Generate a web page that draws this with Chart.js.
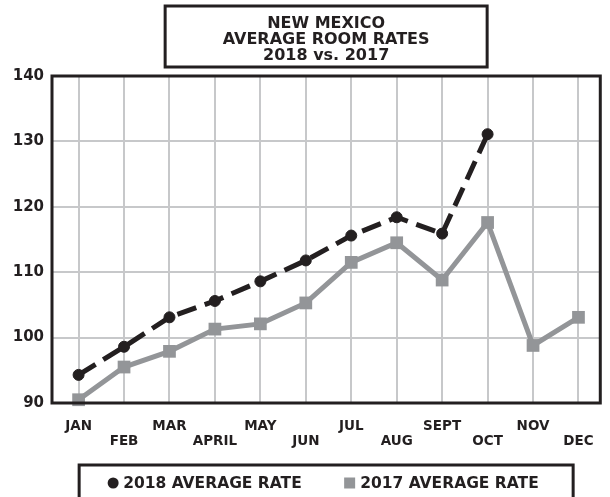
<!DOCTYPE html>
<html>
<head>
<meta charset="utf-8">
<script src="https://cdn.jsdelivr.net/npm/chart.js@4"></script>
<style>
  html, body { margin: 0; padding: 0; background: #fff; }
</style>
</head>
<body>
<canvas id="chart" width="610" height="497"></canvas>
<script>
const month_labels = ["JAN", "FEB", "MAR", "APRIL", "MAY", "JUN", "JUL", "AUG", "SEPT", "OCT", "NOV", "DEC"];
const rate_2018 = [94.3, 98.6, 103.1, 105.6, 108.6, 111.8, 115.6, 118.4, 115.9, 131.1];
const rate_2017 = [90.5, 95.5, 97.9, 101.3, 102.1, 105.3, 111.5, 114.5, 108.8, 117.6, 98.8, 103.1];
const y_ticks = [90, 100, 110, 120, 130, 140];
const title_lines = ["NEW MEXICO", "AVERAGE ROOM RATES", "2018 vs. 2017"];
const series_names = ["2018 AVERAGE RATE", "2017 AVERAGE RATE"];

const ink = "#231f20";
const gray = "#939598";
const grid_gray = "#c7c8ca";
const font_family = "'DejaVu Sans', sans-serif";

function toPoints(values) {
  return values.map(function (v, i) {
    return { x: i, y: v };
  });
}

// title box, plot frame and the boxed legend
const frames = {
  id: "frames",
  afterDraw(chart) {
    const ctx = chart.ctx;
    const a = chart.chartArea;
    const cx = (a.left + a.right) / 2;
    ctx.save();
    ctx.strokeStyle = ink;
    ctx.lineWidth = 3;
    ctx.strokeRect(a.left, a.top, a.right - a.left, a.bottom - a.top);

    // title
    ctx.strokeRect(cx - 161, 6, 322, 61);
    ctx.fillStyle = ink;
    ctx.font = "bold 16px " + font_family;
    ctx.textAlign = "center";
    ctx.textBaseline = "middle";
    title_lines.forEach(function (line, i) {
      ctx.fillText(line, cx, 23.5 + i * 16);
    });

    // legend
    const left = cx - 247;
    const right = cx + 247;
    ctx.beginPath();
    ctx.moveTo(left, 500);
    ctx.lineTo(left, 465);
    ctx.lineTo(right, 465);
    ctx.lineTo(right, 500);
    ctx.stroke();

    ctx.font = "bold 15.5px " + font_family;
    ctx.textAlign = "left";
    const ly = 483;
    const starts = [left + 28, left + 265];
    chart.data.datasets.forEach(function (ds, i) {
      const x0 = starts[i];
      ctx.fillStyle = ds.pointBackgroundColor;
      if (ds.pointStyle === "circle") {
        ctx.beginPath();
        ctx.arc(x0 + 6, ly, 5.5, 0, Math.PI * 2);
        ctx.fill();
      } else {
        ctx.fillRect(x0, ly - 5.5, 11, 11);
      }
      ctx.fillStyle = ink;
      ctx.fillText(ds.label, x0 + 16, ly + 1);
    });
    ctx.restore();
  },
};

const config = {
  type: "line",
  data: {
    datasets: [
      {
        label: series_names[0],
        data: toPoints(rate_2018),
        borderColor: ink,
        borderWidth: 5,
        borderDash: [20, 9],
        pointStyle: "circle",
        pointRadius: 5.5,
        pointBackgroundColor: ink,
        pointBorderColor: ink,
        pointBorderWidth: 1,
        clip: false,
        order: 0,
      },
      {
        label: series_names[1],
        data: toPoints(rate_2017),
        borderColor: gray,
        borderWidth: 5,
        pointStyle: "rect",
        pointRadius: 9,
        pointBackgroundColor: gray,
        pointBorderColor: gray,
        pointBorderWidth: 0,
        clip: false,
        order: 1,
      },
    ],
  },
  options: {
    responsive: false,
    animation: false,
    devicePixelRatio: 1,
    layout: { padding: { top: 76, right: 2, left: 0, bottom: 0 } },
    plugins: {
      legend: { display: false },
      tooltip: { enabled: false },
    },
    scales: {
      x: {
        type: "linear",
        min: -0.585,
        max: 11.48,
        afterBuildTicks: function (scale) {
          scale.ticks = month_labels.map(function (_, i) {
            return { value: i };
          });
        },
        afterFit: function (scale) {
          scale.height = 94;
        },
        grid: { color: grid_gray, lineWidth: 2, drawTicks: false },
        border: { display: false },
        ticks: {
          autoSkip: false,
          maxRotation: 0,
          padding: 16,
          color: ink,
          font: { family: font_family, size: 13.5, weight: "bold", lineHeight: 1.12 },
          callback: function (value) {
            const name = month_labels[value];
            return value % 2 ? ["", name] : name;
          },
        },
      },
      y: {
        min: y_ticks[0],
        max: y_ticks[y_ticks.length - 1],
        afterBuildTicks: function (scale) {
          scale.ticks = y_ticks.map(function (v) {
            return { value: v };
          });
        },
        afterFit: function (scale) {
          scale.width = 52;
        },
        grid: { color: grid_gray, lineWidth: 2, drawTicks: false },
        border: { display: false },
        ticks: {
          padding: 8,
          color: ink,
          font: { family: font_family, size: 15, weight: "bold" },
        },
      },
    },
  },
  plugins: [frames],
};

new Chart(document.getElementById("chart"), config);
</script>
</body>
</html>
